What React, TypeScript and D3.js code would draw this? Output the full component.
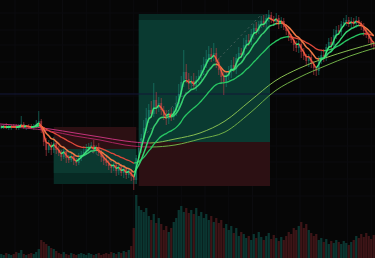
import React from "react";
import * as d3 from "d3";

const W = 375;
const H = 258;

// closing prices per bar (150 bars)
const closes = [
  73, 74, 72, 73, 74, 73, 72, 74, 76, 73, 74, 73, 72, 74, 76, 79,
  70, 58, 50, 55, 50, 57, 50,
  47, 43, 49, 42, 40, 44, 39, 37, 42, 45,
  48, 51, 53, 55, 50, 53, 47, 43, 39, 37, 34, 32,
  35, 29, 33, 27, 31, 25, 29, 24, 20,
  42, 52, 62, 72, 82, 90, 86, 100, 92, 97,
  90, 84, 81, 87, 83, 89, 96, 106, 118, 128, 121,
  116, 119, 114, 120, 124, 130, 136, 141, 146, 143, 147, 138,
  130, 123, 118, 124, 128, 135, 131, 142, 147, 145, 155, 160,
  158, 166, 172, 169, 176, 179, 176, 182, 185, 180, 178, 182, 176, 179, 173,
  169, 164, 160, 155, 152, 156, 148, 144, 139, 143, 136, 132, 129,
  139, 145, 143, 153, 158, 155, 165, 170, 168, 176, 178, 180, 176, 179,
  176, 180, 177, 174, 169, 165, 161, 156, 154,
];

const wickUp = [
  2, 1, 3, 2, 1, 2, 3, 2, 8, 2, 1, 2, 3, 2, 4, 10,
  2, 3, 4, 5, 3, 6, 2,
  4, 3, 5, 2, 3, 4, 2, 3, 5, 4,
  6, 5, 4, 3, 5, 2, 4, 3, 2, 5, 3, 2,
  4, 2, 5, 3, 4, 2, 3, 2, 2,
  3, 6, 4, 8, 10, 6, 9, 17, 8, 6,
  5, 4, 6, 3, 5, 4, 8, 10, 6, 22, 8,
  6, 5, 8, 4, 6, 5, 7, 9, 8, 6, 10, 5,
  4, 3, 5, 4, 6, 5, 8, 4, 6, 5, 7, 5,
  6, 5, 4, 6, 3, 5, 6, 4, 5, 3, 4, 5, 3, 4, 3,
  3, 4, 2, 3, 4, 5, 3, 4, 2, 3, 4, 3, 2,
  5, 4, 6, 3, 4, 5, 6, 4, 5, 3, 4, 5, 3, 4,
  3, 4, 3, 2, 3, 2, 3, 2, 3,
];

const wickDn = [
  2, 2, 1, 2, 3, 1, 2, 2, 1, 2, 3, 2, 1, 2, 2, 1,
  3, 4, 6, 3, 5, 3, 4,
  3, 4, 2, 5, 3, 2, 4, 3, 2, 3,
  2, 3, 4, 2, 3, 4, 3, 5, 4, 3, 4, 5,
  3, 5, 4, 3, 5, 4, 3, 5, 10,
  4, 3, 5, 4, 3, 5, 4, 3, 6, 4,
  5, 4, 6, 5, 4, 3, 5, 4, 3, 5, 4,
  5, 6, 4, 5, 3, 4, 5, 4, 3, 5, 4, 6,
  5, 7, 13, 5, 4, 6, 3, 5, 4, 3, 5, 4,
  4, 3, 5, 4, 3, 4, 3, 5, 4, 3, 4, 3, 5, 4, 3,
  4, 5, 3, 6, 4, 5, 6, 4, 5, 6, 4, 7, 5,
  4, 3, 5, 4, 3, 4, 3, 4, 3, 4, 3, 4, 3, 4,
  3, 4, 3, 4, 5, 3, 4, 3, 4,
];

const volumes = [
  4, 3, 5, 4, 3, 4, 6, 5, 8, 4, 3, 4, 5, 4, 6, 9,
  18, 16, 14, 12, 10, 9, 7,
  5, 4, 6, 4, 3, 5, 4, 3, 4, 5,
  4, 3, 5, 4, 3, 4, 5, 3, 4, 5, 4, 6,
  5, 4, 6, 5, 7, 6, 8, 12, 30,
  63, 52, 48, 46, 50, 42, 38, 44, 35, 40,
  34, 28, 32, 26, 30, 36, 40, 48, 52, 46, 50,
  45, 48, 44, 50, 42, 46, 40, 44, 38, 42, 36, 40,
  35, 38, 30, 34, 28, 32, 25, 30, 22, 26, 24, 20,
  22, 18, 24, 20, 26, 21, 18, 22, 25, 19, 23, 20, 17, 21, 18,
  22, 26, 24, 30, 28, 32, 36, 30, 34, 28, 25, 22, 24,
  18, 20, 16, 19, 14, 17, 15, 18, 16, 14, 17, 15, 13, 16,
  18, 22, 20, 24, 21, 25, 22, 19, 23,
];

// slow moving averages sampled every 10 bars
const slowBars = [0, 10, 20, 30, 40, 50, 60, 70, 80, 90, 100, 110, 120, 130, 140, 150];
const slowMA1 = [76, 74, 71, 67, 63, 59, 57, 61, 67, 79, 99, 119, 132, 142, 150, 157];
const slowMA2 = [74, 72, 69, 64, 60, 55, 53, 55, 61, 68, 87, 109, 123, 134, 144, 152];

// EMA smoothing factors for faster averages
const emaAlphas = [0.5, 0.2, 0.077];

// position tools: [startBar, endBar, entry, stop, target, lastPrice]
const shortPosition = [21.5, 54.5, 51, 73, 16, 27];
const longPosition = [55.5, 108, 58, 14, 186, 180];

// dashed position lines: [bar, price] pairs
const shortDash = [[35, 50], [53, 28]];
const longDash = [[56, 60], [104, 184]];

const horizontalLevel = 106;
const gridBars = [6, 15.5, 25, 34.5, 44, 53.5, 63, 72.5, 82, 91.5, 101, 110.5, 120, 129.5, 139, 148.5];
const gridPrices = [187, 170, 155, 138, 121, 104, 88, 71, 54, 38, 21, 4];

function ema(values: number[], alpha: number) {
  let e = values[0];
  return values.map((v) => (e = e + alpha * (v - e)));
}

const x = d3.scaleLinear().domain([0, closes.length]).range([0, W]);
const y = d3.scaleLinear().domain([0, 200]).range([200, 0]);
const yv = d3.scaleLinear().domain([0, 70]).range([H, H - 70]);

function SlopeLine({ id, pts, up, down, width }: { id: string; pts: [number, number][]; up: string; down: string; width: number }) {
  const line = d3
    .line<[number, number]>()
    .x((d) => x(d[0]))
    .y((d) => y(d[1]))
    .curve(d3.curveMonotoneX);
  const stops: { o: number; c: string }[] = [];
  let prev = "";
  for (let i = 1; i < pts.length; i++) {
    const c = pts[i][1] >= pts[i - 1][1] ? up : down;
    const o = Math.max(0, Math.min(1, x(pts[i - 1][0]) / W));
    if (prev === "") stops.push({ o: 0, c });
    else if (c !== prev) {
      stops.push({ o, c: prev });
      stops.push({ o, c });
    }
    prev = c;
  }
  stops.push({ o: 1, c: prev });
  return (
    <g>
      <defs>
        <linearGradient id={id} gradientUnits="userSpaceOnUse" x1={0} y1={0} x2={W} y2={0}>
          {stops.map((s, i) => (
            <stop key={i} offset={s.o} stopColor={s.c} />
          ))}
        </linearGradient>
      </defs>
      <path d={line(pts) || ""} fill="none" stroke={`url(#${id})`} strokeWidth={width} strokeLinejoin="round" />
    </g>
  );
}

export default function App() {
  const step = x(1) - x(0);
  const bodyW = step * 0.7;
  const opens = closes.map((c, i) => (i === 0 ? c : closes[i - 1]));
  const [fast, mid, med] = emaAlphas.map((a) => ema(closes, a));
  const toPts = (arr: number[]) => arr.map((v, i) => [i + 0.5, v] as [number, number]);
  const slow1 = slowBars.map((b, i) => [b, slowMA1[i]] as [number, number]);
  const slow2 = slowBars.map((b, i) => [b, slowMA2[i]] as [number, number]);

  const zone = (p: number[], key: string, isLong: boolean) => {
    const [s, e, entry, stop, target, last] = p;
    const x0 = x(s);
    const w = x(e) - x(s);
    const tTop = Math.min(y(entry), y(target));
    const tH = Math.abs(y(entry) - y(target));
    const sTop = Math.min(y(entry), y(stop));
    const sH = Math.abs(y(entry) - y(stop));
    const bTop = Math.min(y(entry), y(last));
    const bH = Math.abs(y(entry) - y(last));
    return (
      <g key={key}>
        <rect x={x0} y={tTop} width={w} height={tH} fill="#072a24" />
        <rect x={x0} y={sTop} width={w} height={sH} fill="#2c1013" />
        <rect x={x0} y={bTop} width={w} height={bH} fill={isLong ? "#0a3a31" : "#0b3930"} />
      </g>
    );
  };

  const dash = (d: number[][], key: string) => (
    <line
      key={key}
      x1={x(d[0][0])}
      y1={y(d[0][1])}
      x2={x(d[1][0])}
      y2={y(d[1][1])}
      stroke="#8a8a8a"
      strokeOpacity={0.45}
      strokeDasharray="2,3"
      strokeWidth={1}
    />
  );

  return (
    <svg width={W} height={H} style={{ position: "fixed", left: 0, top: 0, display: "block" }}>
      <rect width={W} height={H} fill="#060606" />
      {gridBars.map((b, i) => (
        <line key={"gx" + i} x1={x(b)} x2={x(b)} y1={0} y2={H} stroke="#0b0b0e" strokeWidth={1} />
      ))}
      {gridPrices.map((p, i) => (
        <line key={"gy" + i} x1={0} x2={W} y1={y(p)} y2={y(p)} stroke="#0b0b0e" strokeWidth={1} />
      ))}
      {zone(shortPosition, "short", false)}
      {zone(longPosition, "long", true)}
      <line x1={0} x2={W} y1={y(horizontalLevel)} y2={y(horizontalLevel)} stroke="#121638" strokeWidth={1.2} />
      {volumes.map((v, i) => {
        const upBar = closes[i] >= opens[i];
        return (
          <rect
            key={"v" + i}
            x={x(i) + step * 0.05}
            y={yv(v)}
            width={step * 0.9}
            height={H - yv(v)}
            fill={upBar ? "#0b3631" : "#3d1517"}
          />
        );
      })}
      {dash(shortDash, "sd")}
      {dash(longDash, "ld")}
      {closes.map((c, i) => {
        const o = opens[i];
        const upBar = c >= o;
        const hi = Math.max(o, c) + wickUp[i];
        const lo = Math.min(o, c) - wickDn[i];
        const col = upBar ? "#1c8c7a" : "#c8414a";
        const cx = x(i + 0.5);
        const top = y(Math.max(o, c));
        const h = Math.max(1, Math.abs(y(o) - y(c)));
        return (
          <g key={"c" + i} opacity={0.72}>
            <line x1={cx} x2={cx} y1={y(hi)} y2={y(lo)} stroke={col} strokeWidth={0.8} />
            <rect x={cx - bodyW / 2} y={top} width={bodyW} height={h} fill={col} />
          </g>
        );
      })}
      <SlopeLine id="s2" pts={slow2} up="#6fae45" down="#a8245f" width={1} />
      <SlopeLine id="s1" pts={slow1} up="#86bd50" down="#c2337a" width={1} />
      <SlopeLine id="m3" pts={toPts(med)} up="#27c763" down="#e0483a" width={1.3} />
      <SlopeLine id="m2" pts={toPts(mid)} up="#36d070" down="#f07a45" width={1.5} />
      <SlopeLine id="m1" pts={toPts(fast)} up="#3ee37a" down="#ee5a3e" width={1.5} />
    </svg>
  );
}
